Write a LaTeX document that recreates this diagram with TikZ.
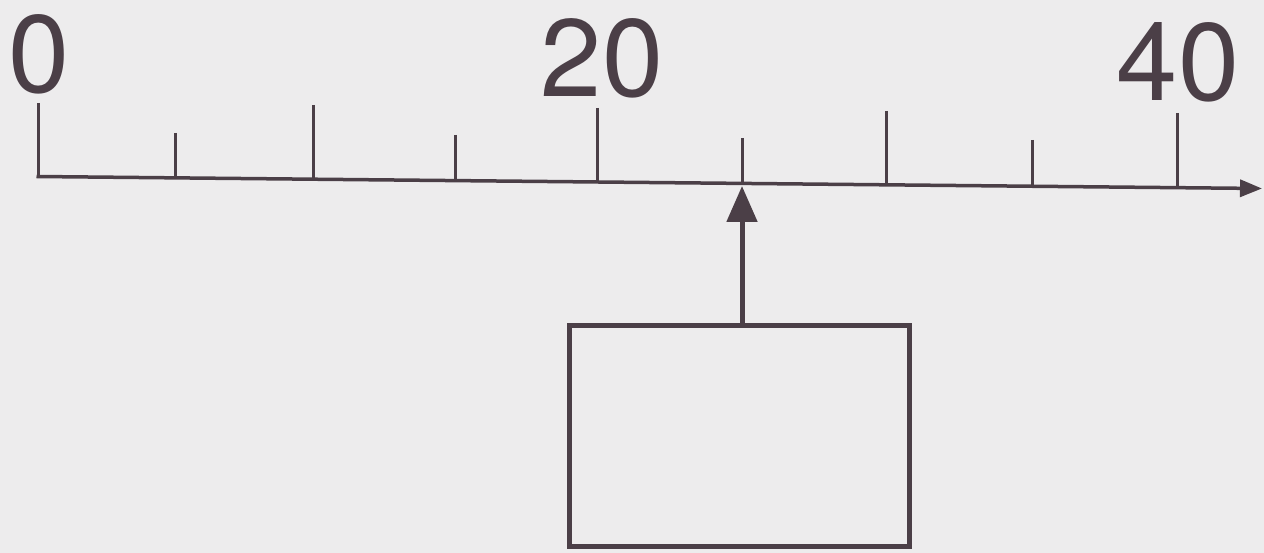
\documentclass[tikz,border=0pt]{standalone}
\usepackage{fontspec}
\setmainfont{TeX Gyre Heros}
\usetikzlibrary{arrows.meta}
\definecolor{ink}{HTML}{4B3F47}
\definecolor{paper}{HTML}{EDECED}
\tikzset{
  axisline/.style={draw=ink, line width=3.5pt, -{Triangle[length=22pt,width=17pt]}},
  tickline/.style={draw=ink, line width=3pt},
  numlabel/.style={text=ink, inner sep=0pt, anchor=base, font=\fontsize{110}{110}\selectfont},
  answerbox/.style={draw=ink, line width=5pt, minimum width=340pt, minimum height=221pt, inner sep=0pt},
  pointer/.style={draw=ink, line width=5pt, -{Triangle[length=36pt,width=30pt]}}
}
\begin{document}
\begin{tikzpicture}[x=1pt,y=-1pt]
  \fill[paper] (0,0) rectangle (1264,553);
  \useasboundingbox (0,0) rectangle (1264,553);
  % axis
  \coordinate (a0) at (38,176.5);
  \coordinate (aend) at (1262,188.5);
  \draw[axisline] (36.5,176.5) -- (aend);
  % ticks: x / top
  \foreach \x/\t in {38/103,175/133,313/105,455/135,597/108,742/138,886/111,1032/140,1177/113}{
    \pgfmathsetmacro{\b}{176.5+0.0098*(\x-38)}
    \draw[tickline] (\x,\t) -- (\x,\b);
  }
  % labels
  \node[numlabel] (l0) at (39,93) {0};
  \node[numlabel] (l20) at (602,97) {20};
  \node[numlabel] (l40) at (1178,101) {40};
  % answer box and pointer
  \node[answerbox] (box) at (739,436) {};
  \coordinate (tip) at (742,186);
  \draw[pointer] (box.north -| tip) -- (tip);
\end{tikzpicture}
\end{document}
